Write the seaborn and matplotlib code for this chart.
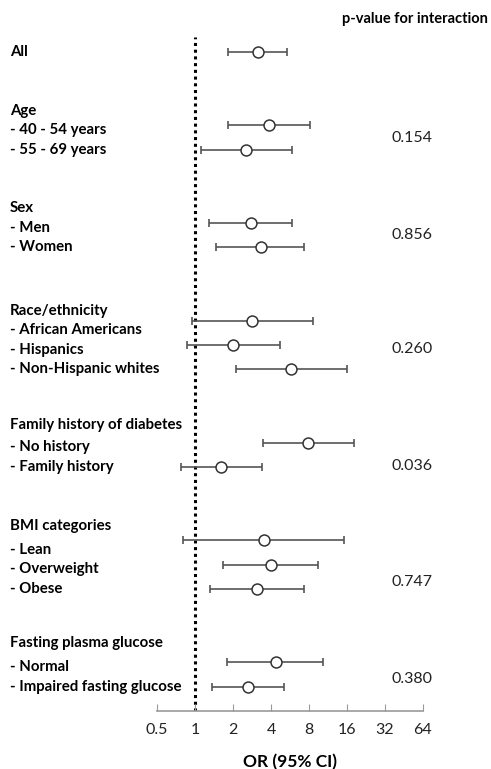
import numpy as np
import pandas as pd
import seaborn as sns
import matplotlib.pyplot as plt
from matplotlib.transforms import blended_transform_factory

# Subgroups and odds ratios
groups = ['All', 'Age', 'Sex', 'Race/ethnicity', 'Family history of diabetes',
          'BMI categories', 'Fasting plasma glucose']
items = [
    [],
    ['- 40 - 54 years', '- 55 - 69 years'],
    ['- Men', '- Women'],
    ['- African Americans', '- Hispanics', '- Non-Hispanic whites'],
    ['- No history', '- Family history'],
    ['- Lean', '- Overweight', '- Obese'],
    ['- Normal', '- Impaired fasting glucose'],
]
or_est = [3.14, 3.88, 2.54, 2.76, 3.31, 2.83, 2.01, 5.76, 7.9, 1.61, 3.5, 3.98, 3.08, 4.41, 2.61]
or_low = [1.84, 1.84, 1.12, 1.30, 1.48, 0.94, 0.87, 2.11, 3.46, 0.77, 0.81, 1.66, 1.31, 1.78, 1.36]
or_high = [5.38, 8.1, 5.83, 5.87, 7.3, 8.56, 4.71, 15.9, 18.2, 3.39, 15.1, 9.5, 7.3, 10.3, 5.1]
p_values = ['', '0.154', '0.856', '0.260', '0.036', '0.747', '0.380']
p_rows = [None, 3.5, 7.5, 12.15, 16.95, 21.7, 25.7]
head_gap = [0, 0.8, 0.8, 0.8, 0.9, 1.0, 1.0]
ticks = [0.5, 1, 2, 4, 8, 16, 32, 64]

# row slots: 2 empty rows between groups
rows = []
r = 0
for g, it in zip(groups, items):
    n = max(len(it), 1)
    rows.extend(range(r, r + n))
    r += n + 2
df = pd.DataFrame({'row': rows, 'est': or_est, 'low': or_low, 'high': or_high})

plt.rcParams['font.family'] = ['Lato', 'DejaVu Sans']
fig = plt.figure(figsize=(4.91, 7.69), dpi=100)
W, H = 491, 769
ax = fig.add_axes([157 / W, 1 - 711 / H, (423 - 157) / W, (711 - 37) / H])

line_col = '#555555'
ax.errorbar(df['est'], df['row'], xerr=[df['est'] - df['low'], df['high'] - df['est']],
            fmt='none', ecolor=line_col, elinewidth=1.2, capsize=3, capthick=1.2, zorder=2)
sns.scatterplot(data=df, x='est', y='row', ax=ax, s=62, color='white',
                edgecolor='#333333', linewidth=1.1, zorder=3)
ax.axvline(1, color='black', linestyle=(0, (1, 1.2)), linewidth=2.2, zorder=1)

ax.set_xscale('log', base=2)
ax.set_xlim(0.5, 64)
ax.set_ylim(27.0, -0.62)
ax.set_xticks(ticks)
ax.set_xticklabels([f'{t:g}' for t in ticks], fontsize=11.5, color='#222222')
ax.xaxis.set_minor_locator(plt.NullLocator())
ax.tick_params(axis='x', direction='in', length=5, color='#999999', pad=9)
ax.set_yticks([])
ax.set_ylabel('')
ax.set_xlabel('OR (95% CI)', fontsize=12.5, fontweight='bold', labelpad=12)
for s in ['top', 'right', 'left']:
    ax.spines[s].set_visible(False)
ax.spines['bottom'].set_color('#999999')
ax.spines['bottom'].set_linewidth(1.2)

# left labels
trans = blended_transform_factory(fig.transFigure, ax.transData)
idx = 0
for g, it, hg in zip(groups, items, head_gap):
    if not it:
        ax.text(10 / W, rows[idx], g, transform=trans, fontsize=10.8,
                fontweight='bold', va='center', ha='left')
        idx += 1
        continue
    last = rows[idx + len(it) - 1]
    n = len(it)
    ax.text(10 / W, last - 0.8 * (n - 1) - hg, g, transform=trans, fontsize=10.8,
            fontweight='bold', va='center', ha='left')
    for k, lab in enumerate(it):
        ax.text(10 / W, last - 0.8 * (n - 1 - k), lab, transform=trans, fontsize=10.8,
                fontweight='bold', va='center', ha='left')
    idx += n

# p-values
for pv, pr in zip(p_values, p_rows):
    if pv:
        ax.text(433 / W, pr, pv, transform=trans, fontsize=11.5, va='center', ha='right',
                color='#222222')
fig.text(488 / W, 1 - 19 / H, 'p-value for interaction', fontsize=10.5,
         fontweight='bold', ha='right', va='center')

fig.savefig('out.png', dpi=100)
